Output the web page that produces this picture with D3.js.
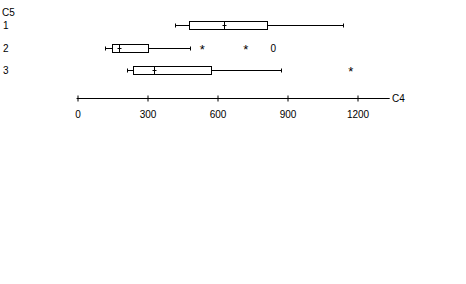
<!DOCTYPE html>
<html>
<head>
<meta charset="utf-8">
<script src="https://cdn.jsdelivr.net/npm/d3@7"></script>
<style>
  body { margin: 0; background: #fff; }
  svg { display: block; }
  text { font-family: "Liberation Sans", Arial, sans-serif; font-size: 10px; fill: #000; }
</style>
</head>
<body>
<div id="chart"></div>
<script>
// groups of C5, five-number summaries of C4
const groups = ["1", "2", "3"];
const whiskerLow = [421, 121, 213];
const q1 = [481, 151, 241];
const median = [631, 181, 331];
const q3 = [813, 303, 573];
const whiskerHigh = [1141, 483, 873];
// outliers: [group, value, symbol]
const outliers = [
    ["2", 537, "*"],
    ["2", 723, "*"],
    ["2", 841, "0"],
    ["3", 1173, "*"]
];
const xTicks = [0, 300, 600, 900, 1200];

const width = 466, height = 284;

const svg = d3.select('#chart').append('svg')
    .attr('width', width)
    .attr('height', height);

const x = d3.scaleLinear().domain([0, 1200]).range([77, 357]);
const y = d3.scalePoint().domain(groups).range([25, 70]);
const axisY = 98;

// x axis, ticks cross the line
const xAxis = d3.axisBottom(x)
    .tickValues(xTicks)
    .tickFormat(d3.format('d'))
    .tickSizeInner(3)
    .tickSizeOuter(0)
    .tickPadding(9);

const axisGroup = svg.append('g')
    .attr('transform', `translate(0.5, ${axisY + 0.5})`)
    .call(xAxis);
axisGroup.select('.domain').remove();
axisGroup.selectAll('.tick line').attr('y1', -3).attr('y2', 3).attr('stroke', '#000');
axisGroup.selectAll('.tick text')
    .attr('font-family', '"Liberation Sans", Arial, sans-serif')
    .attr('font-size', 10)
    .attr('fill', '#000');

axisGroup.append('line')
    .attr('x1', x(-4)).attr('x2', x(1338))
    .attr('y1', 0).attr('y2', 0)
    .attr('stroke', '#000');

svg.append('text').attr('x', 392).attr('y', axisY + 4).text('C4');
svg.append('text').attr('x', 2).attr('y', 16).text('C5');

// row labels
svg.selectAll('.rowlabel').data(groups).enter().append('text')
    .attr('class', 'rowlabel')
    .attr('x', 3)
    .attr('y', d => y(d) + 4)
    .text(d => d);

// boxes
const rows = groups.map((g, i) => ({
    g, lo: whiskerLow[i], q1: q1[i], med: median[i], q3: q3[i], hi: whiskerHigh[i]
}));

const box = svg.selectAll('.box').data(rows).enter().append('g')
    .attr('class', 'box')
    .attr('transform', d => `translate(0.5, ${Math.round(y(d.g)) + 0.5})`)
    .attr('stroke', '#000')
    .attr('fill', 'none');

const bh = 4;
box.append('line')
    .attr('x1', d => Math.round(x(d.lo))).attr('x2', d => Math.round(x(d.q1)))
    .attr('y1', 0).attr('y2', 0);
box.append('line')
    .attr('x1', d => Math.round(x(d.q3))).attr('x2', d => Math.round(x(d.hi)))
    .attr('y1', 0).attr('y2', 0);
box.append('line')
    .attr('x1', d => Math.round(x(d.lo))).attr('x2', d => Math.round(x(d.lo)))
    .attr('y1', -2).attr('y2', 2);
box.append('line')
    .attr('x1', d => Math.round(x(d.hi))).attr('x2', d => Math.round(x(d.hi)))
    .attr('y1', -2).attr('y2', 2);
box.append('rect')
    .attr('x', d => Math.round(x(d.q1)))
    .attr('width', d => Math.round(x(d.q3)) - Math.round(x(d.q1)))
    .attr('y', -bh).attr('height', bh * 2);
box.append('line')
    .attr('x1', d => Math.round(x(d.med))).attr('x2', d => Math.round(x(d.med)))
    .attr('y1', -bh).attr('y2', bh);
box.append('line')
    .attr('x1', d => Math.round(x(d.med)) - 2).attr('x2', d => Math.round(x(d.med)) + 2)
    .attr('y1', 0).attr('y2', 0);

// outliers
svg.selectAll('.outlier').data(outliers).enter().append('text')
    .attr('class', 'outlier')
    .attr('x', d => x(d[1]))
    .attr('y', d => y(d[0]) + (d[2] === '*' ? 6 : 4))
    .attr('text-anchor', 'middle')
    .style('font-size', d => d[2] === '*' ? '13px' : '10px')
    .text(d => d[2]);
</script>
</body>
</html>
